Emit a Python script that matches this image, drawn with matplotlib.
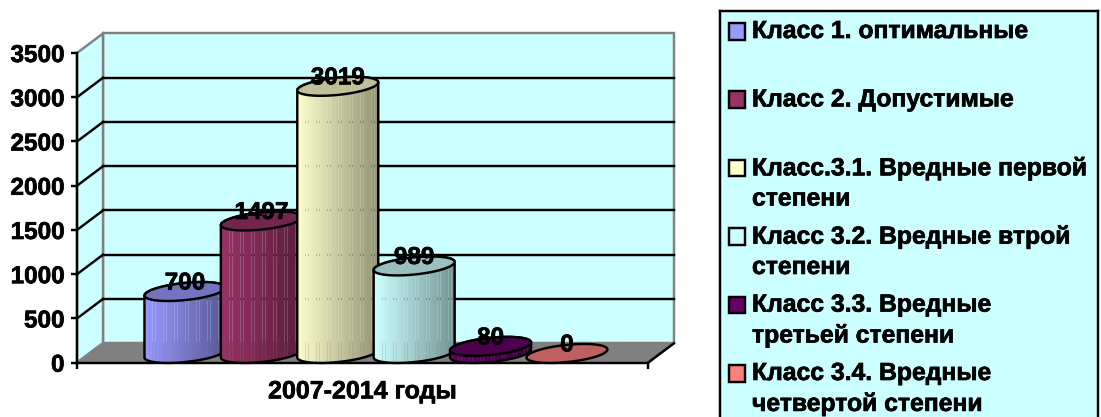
import numpy as np
import matplotlib
matplotlib.use('Agg')
import matplotlib.pyplot as plt
import matplotlib.patheffects as pe
from matplotlib.patches import Polygon, Rectangle

plt.rcParams['font.family'] = ['Liberation Sans', 'DejaVu Sans']
plt.rcParams['font.weight'] = 'bold'

# Данные
classes = ['Класс 1. оптимальные', 'Класс 2. Допустимые',
           'Класс.3.1. Вредные первой\nстепени', 'Класс 3.2. Вредные втрой\nстепени',
           'Класс 3.3. Вредные\nтретьей степени', 'Класс 3.4. Вредные\nчетвертой степени']
values = [700, 1497, 3019, 989, 80, 0]
colors = ['#9999FF', '#993366', '#FFFFCC', '#CCFFFF', '#660066', '#FF8080']
y_ticks = [0, 500, 1000, 1500, 2000, 2500, 3000, 3500]
x_title = '2007-2014 годы'

W, H = 1101, 417
LW = 1.75
heavy = [pe.withStroke(linewidth=0.5, foreground='black')]

fig = plt.figure(figsize=(W / 100, H / 100), dpi=100, facecolor='white')


def axes_px(left, top, right, bottom):
    return fig.add_axes([left / W, 1 - bottom / H, (right - left) / W, (bottom - top) / H])


# Передняя плоскость диаграммы
ax = axes_px(77, 53, 648, 362.7)
ax.patch.set_visible(False)
ax.set_xlim(-1.243, 6.231)
ax.set_ylim(0, 3500)

# Пересчёт пикселей в единицы осей
px_x = 7.474 / 571
px_y = 3500 / 309.7
depth_x = 26 * px_x
depth_y = 19.5 * px_y
x0, x1 = ax.get_xlim()

# Стены и пол
back = Rectangle((x0 + depth_x, depth_y), x1 - x0, 3500, fc='#CCFFFF', ec='#808080', lw=LW,
                 clip_on=False, zorder=1)
side = Polygon([(x0, 0), (x0 + depth_x, depth_y), (x0 + depth_x, 3500 + depth_y), (x0, 3500)],
               fc='#CCFFFF', ec='#808080', lw=LW, clip_on=False, zorder=1)
floor = Polygon([(x0, 0), (x0 + depth_x, depth_y), (x1 + depth_x, depth_y), (x1, 0)],
                fc='#808080', ec='#808080', lw=LW, clip_on=False, zorder=1)
ax.add_patch(back)
ax.add_patch(side)
ax.add_patch(floor)

# Линии сетки на задней стене и на боковой
for v in y_ticks[1:-1]:
    ax.plot([x0 + depth_x, x1 + depth_x], [v + depth_y] * 2, color='black', lw=LW,
            clip_on=False, zorder=2)
    ax.plot([x0, x0 + depth_x], [v, v + depth_y], color='black', lw=LW, clip_on=False, zorder=2)
ax.plot([x1, x1 + depth_x], [0, depth_y], color='black', lw=LW, clip_on=False, zorder=2)

# Цилиндры
half_w = 40.5 * px_x
half_h = 8.6 * px_y
tilt = 4.0 * px_y
base = depth_y / 2 - 0.5 * px_y
shift = depth_x / 2
t_low = np.linspace(np.pi, 2 * np.pi, 60)
t_all = np.linspace(0, 2 * np.pi, 120)


def ellipse(cx, cy, t):
    return np.column_stack([cx + half_w * np.cos(t), cy + half_h * np.sin(t) + tilt * np.cos(t)])


# Полосы заливки: часть столбцов полупрозрачная
n_cols = 81
fade = np.linspace(1.0, 0.58, n_cols)
stripe = np.array([0.8 if (k * 7) % 11 < 2 else 1.0 for k in range(n_cols)])

for i, (v, c) in enumerate(zip(values, colors)):
    cx = i + shift
    z = 10 + i
    rgb = np.array(matplotlib.colors.to_rgb(c))
    cy_bot = base
    cy_top = base + v
    if v > 0:
        low = ellipse(cx, cy_bot, t_low)
        top_part = ellipse(cx, cy_top, t_all[:61])
        outline = np.vstack([low, top_part])
        img = np.zeros((1, n_cols, 4))
        img[0, :, :3] = rgb[None, :] * fade[:, None]
        img[0, :, 3] = stripe
        body = Polygon(outline, closed=True, fc='none', ec='black', lw=LW, clip_on=False, zorder=z + 0.2)
        ax.add_patch(body)
        im = ax.imshow(img, extent=(cx - half_w, cx + half_w, cy_bot - half_h - tilt, cy_top + half_h + tilt),
                       aspect='auto', interpolation='nearest', zorder=z, clip_on=True)
        clip = Polygon(outline, closed=True, transform=ax.transData)
        im.set_clip_path(clip)
    top = Polygon(ellipse(cx, cy_top, t_all), closed=True, fc=rgb * 0.75, ec='black', lw=LW,
                  clip_on=False, zorder=z + 0.4)
    ax.add_patch(top)
    ax.text(cx, cy_top + 8.5 * px_y, str(v), ha='center', va='center', fontsize=17.5,
            fontweight='bold', color='black', zorder=30, path_effects=heavy)

ax.set_xlim(x0, x1)
ax.set_ylim(0, 3500)

# Оси
for s in ['top', 'right']:
    ax.spines[s].set_visible(False)
for s in ['left', 'bottom']:
    ax.spines[s].set_linewidth(LW)
    ax.spines[s].set_zorder(5)
ax.set_yticks(y_ticks)
ax.set_yticklabels([str(v) for v in y_ticks], fontsize=17.5, fontweight='bold', path_effects=heavy)
ax.set_xticks([x0, x1])
ax.set_xticklabels([])
ax.tick_params(axis='both', length=4, width=LW, pad=5)
ax.set_xlabel(x_title, fontsize=18, fontweight='bold', labelpad=3, path_effects=heavy)

# Легенда
leg = axes_px(720, 10.5, 1098, 430)
leg.set_xlim(720, 1098)
leg.set_ylim(430, 10.5)
leg.set_facecolor('#CCFFFF')
leg.set_xticks([])
leg.set_yticks([])
for s in leg.spines.values():
    s.set_linewidth(LW)
for i, (name, c) in enumerate(zip(classes, colors)):
    row = 31 + i * 68.4
    leg.add_patch(Rectangle((728.5, row - 8), 16.5, 16.5, fc=c, ec='black', lw=LW))
    leg.text(752, row - 12, name, ha='left', va='top', fontsize=17.8, fontweight='bold',
             linespacing=1.33, color='black', path_effects=heavy)

fig.savefig('out.png', dpi=100)
